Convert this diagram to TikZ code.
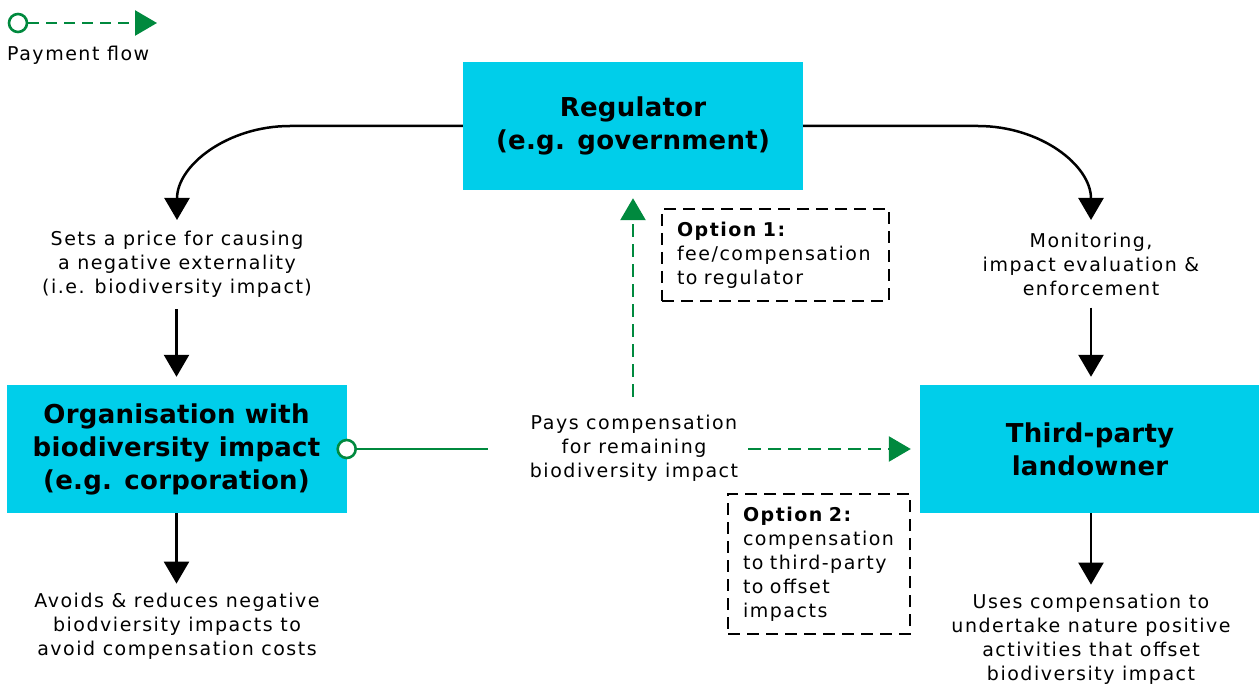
\documentclass[tikz,border=0pt]{standalone}
\usepackage{fontspec}
\setmainfont{DejaVu Sans}
\usetikzlibrary{arrows.meta}
\definecolor{cyanbox}{RGB}{0,206,234}
\definecolor{pgreen}{RGB}{0,137,62}
\begin{document}
\begin{tikzpicture}[x=1pt,y=-1pt,
  box/.style={fill=cyanbox, minimum width=340pt, minimum height=128pt, inner sep=0pt,
    font=\fontsize{26}{33}\selectfont\bfseries\addfontfeature{LetterSpace=1}, align=center},
  lbl/.style={font=\fontsize{19}{24}\selectfont\addfontfeature{LetterSpace=8}, align=center, inner sep=0pt},
  arr/.style={line width=2.5pt, -{Triangle[length=22pt,width=25pt]}},
  paysolid/.style={draw=pgreen, line width=2.6pt},
  paydash/.style={draw=pgreen, line width=2.6pt, dash pattern=on 13pt off 7pt,
    -{Triangle[length=22pt,width=25pt,fill=pgreen]}},
  opt/.style={draw, line width=2.5pt, dash pattern=on 12pt off 7pt, inner xsep=15pt,
    inner ysep=0pt, align=left, font=\fontsize{19}{24}\selectfont\addfontfeature{LetterSpace=8}},
  circ/.style={circle, draw=pgreen, fill=white, line width=2.6pt, minimum size=18pt, inner sep=0pt}
]
\useasboundingbox (0,0) rectangle (1259,684);
% boxes
\node[box] (reg) at (633,126) {Regulator\\(e.g. government)};
\node[box] (org) at (176.5,449) {Organisation with\\biodiversity impact\\(e.g. corporation)};
\node[box] (tp) at (1090,449) {Third-party\\landowner};
% labels
\node[lbl] (t1) at (177,264) {Sets a price for causing\\a negative externality\\(i.e. biodiversity impact)};
\node[lbl] (t2) at (1091,264) {Monitoring,\\impact evaluation \&\\enforcement};
\node[lbl] (t3) at (177,626) {Avoids \& reduces negative\\biodviersity impacts to\\avoid compensation costs};
\node[lbl] (t4) at (1091,639) {Uses compensation to\\undertake nature positive\\activities that offset\\biodiversity impact};
\node[lbl] (pay) at (634,448) {Pays compensation\\for remaining\\biodiversity impact};
% option boxes
\node[opt, minimum width=227pt, minimum height=92pt, text width=197pt] (o1) at (775.5,255)
  {\textbf{Option 1:}\\fee/compensation\\to regulator};
\node[opt, minimum width=182pt, minimum height=140pt, text width=152pt] (o2) at (819,564)
  {\textbf{Option 2:}\\compensation\\to third-party\\to offset\\impacts};
% curved arrows from regulator
\coordinate (a1) at (177,220);
\coordinate (a2) at (1091,220);
\draw[arr] (reg.west) -- (290,126) .. controls (228,126) and (177,165) .. (a1);
\draw[arr] (reg.east) -- (978,126) .. controls (1040,126) and (1091,165) .. (a2);
% straight arrows
\draw[arr, shorten <=12pt, shorten >=8pt] (org.north |- t1.south) -- (org.north);
\draw[arr, shorten <=12pt, shorten >=8pt] (a2 |- t2.south) -- (a2 |- tp.north);
\draw[arr, shorten >=9pt] (org.south) -- (org.south |- t3.north);
\draw[arr, shorten >=9pt] (a2 |- tp.south) -- (a2 |- t4.north);
% payment flow
\node[circ] (c0) at (org.east) {};
\coordinate (p1) at (488,449);
\coordinate (p2) at (748,449);
\coordinate (p3) at (633,397);
\draw[paysolid] (c0) -- (p1);
\draw[paydash, shorten >=9pt] (p2) -- (tp.west);
\draw[paydash, shorten >=8pt] (p3) -- (reg.south);
% legend
\node[circ] (lc) at (18,23) {};
\coordinate (lt) at (157,23);
\draw[paydash, dash pattern=on 11pt off 7pt] (lc) -- (lt);
\node[lbl, anchor=west] (ltxt) at (7,55) {Payment flow};
\end{tikzpicture}
\end{document}
